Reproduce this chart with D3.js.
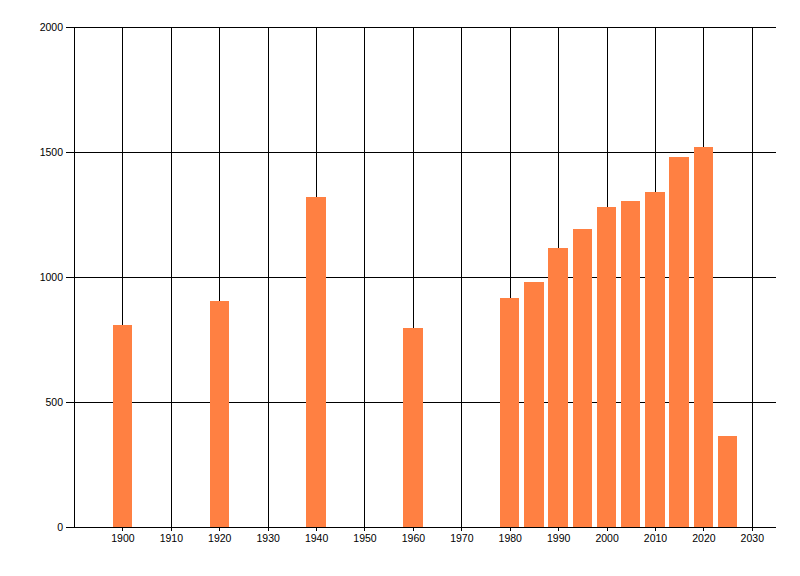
<!DOCTYPE html>
<html>
<head>
<meta charset="utf-8">
<script src="https://cdn.jsdelivr.net/npm/d3@7"></script>
<style>
  body { margin: 0; background: #fff; }
  text { font-family: "Liberation Sans", Arial, sans-serif; font-size: 10.5px; fill: #000; }
</style>
</head>
<body>
<script>
// data
let years = [1900, 1920, 1940, 1960, 1980, 1985, 1990, 1995, 2000, 2005, 2010, 2015, 2020, 2025];
let values = [808, 904, 1320, 796, 916, 980, 1116, 1192, 1280, 1304, 1340, 1480, 1520, 365];
let xTicks = [1900, 1910, 1920, 1930, 1940, 1950, 1960, 1970, 1980, 1990, 2000, 2010, 2020, 2030];
let yTicks = [0, 500, 1000, 1500, 2000];

let width = 800,
  height = 576;

let margin = { top: 27, right: 24, bottom: 49, left: 74 };

let svg = d3.select('body')
  .append('svg')
    .attr('width', width)
    .attr('height', height);

let xScale = d3.scaleLinear()
  .domain([1890, 2035])
  .range([margin.left, width - margin.right]);

let yScale = d3.scaleLinear()
  .domain([0, 2000])
  .range([height - margin.bottom, margin.top]);

let barYears = 4; // bar width in years

// horizontal grid + y axis
let yAxis = svg.append('g')
    .attr('transform', `translate(${margin.left},0)`)
    .call(d3.axisLeft(yScale)
      .tickValues(yTicks)
      .tickFormat(d3.format('d'))
      .tickSize(-(width - margin.right - margin.left))
      .tickSizeOuter(0)
      .tickPadding(11));
yAxis.select('.domain').remove();
yAxis.selectAll('.tick line')
    .attr('x1', -8)
    .attr('stroke', '#000')
    .attr('shape-rendering', 'crispEdges');

// vertical grid + x axis
let xAxis = svg.append('g')
    .attr('transform', `translate(0,${height - margin.bottom})`)
    .call(d3.axisBottom(xScale)
      .tickValues(xTicks)
      .tickFormat(d3.format('d'))
      .tickSize(-(height - margin.bottom - margin.top))
      .tickSizeOuter(0)
      .tickPadding(8));
xAxis.select('.domain').remove();
xAxis.selectAll('.tick line')
    .attr('y1', 4)
    .attr('stroke', '#000')
    .attr('shape-rendering', 'crispEdges');
xAxis.selectAll('.tick text').attr('dy', '0.71em');

// left axis line
svg.append('line')
    .attr('x1', margin.left).attr('x2', margin.left)
    .attr('y1', yScale(2000)).attr('y2', yScale(0))
    .attr('stroke', '#000')
    .attr('shape-rendering', 'crispEdges');

// bars
svg.append('g')
  .selectAll('rect')
    .data(years)
  .enter()
  .append('rect')
    .attr('x', d => xScale(d - barYears / 2))
    .attr('width', xScale(1890 + barYears) - xScale(1890))
    .attr('y', (d, i) => yScale(values[i]))
    .attr('height', (d, i) => yScale(0) - yScale(values[i]))
    .attr('fill', '#ff8042')
    .attr('shape-rendering', 'crispEdges');

// bottom axis line on top of bars
svg.append('line')
    .attr('x1', margin.left - 8).attr('x2', width - margin.right)
    .attr('y1', yScale(0)).attr('y2', yScale(0))
    .attr('stroke', '#000')
    .attr('shape-rendering', 'crispEdges');
</script>
</body>
</html>
